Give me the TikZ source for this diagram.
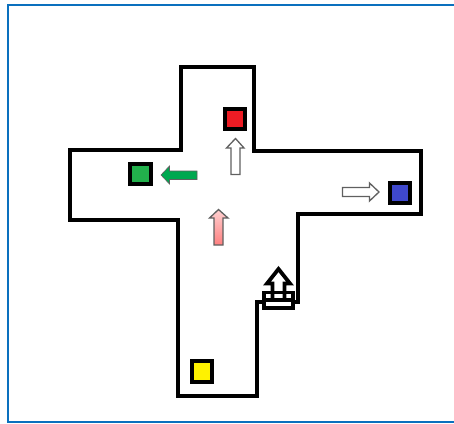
\documentclass[tikz,border=0pt]{standalone}
\definecolor{frameblue}{HTML}{0A70BE}
\definecolor{mred}{HTML}{ED1C24}
\definecolor{mgreen}{HTML}{22B14C}
\definecolor{mblue}{HTML}{3F48CC}
\definecolor{myellow}{HTML}{FFF200}
\definecolor{agreen}{HTML}{00A850}
\definecolor{agray}{HTML}{606060}
\tikzset{
  wall/.style={draw=black,line width=4.6pt,line join=miter},
  marker/.style={draw=black,line width=3.6pt,minimum size=20.5pt,inner sep=0pt,outer sep=0pt,shape=rectangle},
  hollow/.style={draw=agray,line width=1.3pt,fill=white,line join=miter},
  stairline/.style={draw=black,line width=3.8pt,line join=miter}
}
\begin{document}
\begin{tikzpicture}[x=1pt,y=-1pt]
\useasboundingbox (0,0) rectangle (454,423);
\fill[white] (0,0) rectangle (454,423);
% frame
\draw[frameblue,line width=2.8pt] (454,5) -- (8,5) -- (8,422) -- (454,422);
% corridor outline
\draw[wall] (181,67) -- (254,67) -- (254,151) -- (421,151) -- (421,214) -- (298,214) -- (298,302) -- (257,302) -- (257,396) -- (178,396) -- (178,220) -- (70,220) -- (70,150) -- (181,150) -- cycle;
% coloured markers
\node[marker,fill=mred] (red) at (235,119) {};
\node[marker,fill=mgreen] (green) at (140.5,174) {};
\node[marker,fill=mblue] (blue) at (400,193) {};
\node[marker,fill=myellow] (yellow) at (202,371.5) {};
% arrows
\draw[hollow] (235.5,138.5) -- (244,148) -- (240,148) -- (240,174.5) -- (231,174.5) -- (231,148) -- (226.5,148) -- cycle;
\draw[draw=agray,line width=1.3pt,top color=red!18,bottom color=red!50] (218.5,209.5) -- (228,218) -- (223,218) -- (223,245) -- (214,245) -- (214,218) -- (209.5,218) -- cycle;
\fill[agreen,draw=agray,line width=.6pt] (161,175) -- (169.5,166) -- (169.5,171) -- (197,171) -- (197,179.5) -- (169.5,179.5) -- (169.5,184) -- cycle;
\draw[hollow] (379,192) -- (369.5,183) -- (369.5,187.5) -- (342.5,187.5) -- (342.5,196.5) -- (369.5,196.5) -- (369.5,201) -- cycle;
% stairs with arrow
\draw[stairline,fill=white] (264,292.5) rectangle (293,308);
\draw[stairline] (264,300) -- (293,300);
\draw[stairline,fill=white] (278.5,269) -- (290,283.5) -- (284.5,283.5) -- (284.5,300) -- (272.5,300) -- (272.5,283.5) -- (267,283.5) -- cycle;
\draw[stairline] (264,292.5) -- (293,292.5);
\end{tikzpicture}
\end{document}
